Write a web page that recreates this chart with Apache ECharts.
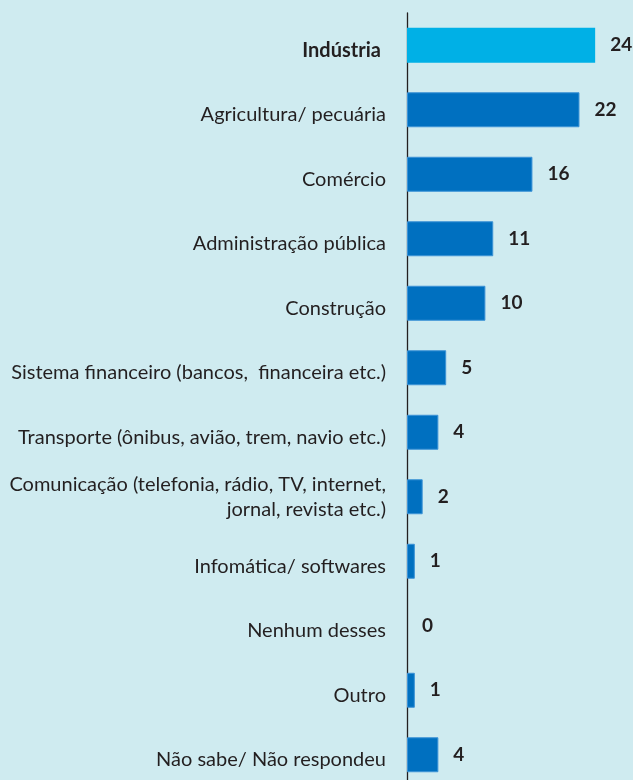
<!DOCTYPE html>
<html><head><meta charset="utf-8">
<script src="https://cdn.jsdelivr.net/npm/echarts@6/dist/echarts.min.js"></script>
<style>html,body{margin:0;padding:0;background:#cfebf0;overflow:hidden;}#c{width:633px;height:790px;}</style>
</head><body><div id="c"></div>
<script>
const categories = [
  "Indústria",
  "Agricultura/ pecuária",
  "Comércio",
  "Administração pública",
  "Construção",
  "Sistema financeiro (bancos,  financeira etc.)",
  "Transporte (ônibus, avião, trem, navio etc.)",
  "Comunicação (telefonia, rádio, TV, internet,\njornal, revista etc.)",
  "Infomática/ softwares",
  "Nenhum desses",
  "Outro",
  "Não sabe/ Não respondeu"
];
const values = [24, 22, 16, 11, 10, 5, 4, 2, 1, 0, 1, 4];
const highlight = "Indústria";

const chart = echarts.init(document.getElementById('c'));
chart.setOption({
  backgroundColor: '#cfebf0',
  animation: false,
  grid: {left: 407, width: 196, top: 13, height: 774, containLabel: false},
  xAxis: {type: 'value', min: 0, max: 25, show: false},
  yAxis: {
    type: 'category', inverse: true, data: categories,
    axisLine: {show: true, lineStyle: {color: '#231f20', width: 1.3}},
    axisTick: {show: false},
    axisLabel: {
      margin: 21, color: '#231f20', fontFamily: 'Lato', fontSize: 20, lineHeight: 25, align: 'right',
      formatter: v => {
        if (v === highlight) return '{b|' + v + '} ';
        if (v.indexOf('\n') >= 0) return v;
        return '{n|' + v + '}';
      },
      rich: {
        b: {fontWeight: 'bold', fontFamily: 'Lato', fontSize: 20, color: '#231f20', padding: [10, 0, 0, 0]},
        n: {fontFamily: 'Lato', fontSize: 20, color: '#231f20', padding: [10, 0, 0, 0]}
      }
    }
  },
  series: [{
    type: 'bar', barWidth: 35,
    data: values.map((v, i) => ({
      value: v,
      itemStyle: categories[i] === highlight
        ? {color: '#00b0e6', borderWidth: 0}
        : {color: '#0070c0', borderColor: '#3d93d6', borderWidth: v > 0 ? 1 : 0}
    })),
    label: {show: true, position: 'right', distance: 15, color: '#231f20', fontFamily: 'Lato', fontWeight: 'bold', fontSize: 19, padding: [4, 0, 0, 0]}
  }]
});
</script></body></html>
